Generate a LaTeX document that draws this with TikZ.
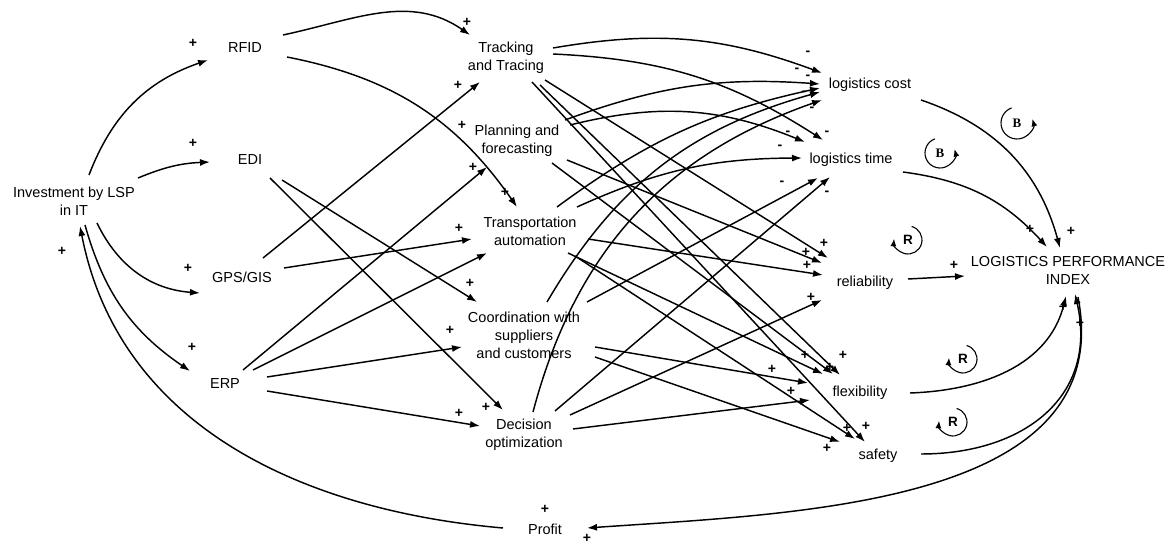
\documentclass[tikz,border=0pt]{standalone}
\usepackage{fontspec}
\setmainfont{Liberation Sans}
\newfontfamily\loopserif{Liberation Serif}
\usetikzlibrary{arrows.meta}
\begin{document}
\begin{tikzpicture}[x=1pt,y=1pt,
  lbl/.style={font=\fontsize{14.5}{18}\selectfont,align=center,inner sep=0pt},
  sgn/.style={font=\bfseries\fontsize{14}{14}\selectfont,inner sep=0pt},
  link/.style={line width=1.45pt,-{Latex[length=10pt,width=7pt]}},
  loopB/.style={font=\loopserif\bfseries\fontsize{13}{13}\selectfont,inner sep=0pt},
  loopR/.style={font=\bfseries\fontsize{13.5}{13.5}\selectfont,inner sep=0pt},
  looparc/.style={line width=1.1pt,-{Latex[length=7.5pt,width=6pt]}}]
\useasboundingbox (0,0) rectangle (1171,544);

% ---- variables ----
\node[lbl] (Inv)    at (74,343)   {Investment by LSP\\in IT};
\node[lbl] (RFID)   at (245,496)  {RFID};
\node[lbl] (EDI)    at (250,384)  {EDI};
\node[lbl] (GPS)    at (242,267)  {GPS/GIS};
\node[lbl] (ERP)    at (225,160)  {ERP};
\node[lbl] (TT)     at (506,486)  {Tracking\\and Tracing};
\node[lbl] (PF)     at (517,403)  {Planning and\\forecasting};
\node[lbl] (TA)     at (530,313)  {Transportation\\automation};
\node[lbl] (CO)     at (524,209)  {Coordination with\\suppliers\\and customers};
\node[lbl] (DO)     at (524,109)  {Decision\\optimization};
\node[lbl] (Profit) at (545,15)   {Profit};
\node[lbl] (LC)     at (870,459)  {logistics cost};
\node[lbl] (LT)     at (851,384)  {logistics time};
\node[lbl] (REL)    at (865,261)  {reliability};
\node[lbl] (FLEX)   at (860,151)  {flexibility};
\node[lbl] (SAF)    at (878,88)   {safety};
\node[lbl] (LPI)    at (1068,274) {LOGISTICS PERFORMANCE\\INDEX};

% ---- investment and IT applications ----
\draw[link] ([shift={(15,26)}]Inv.center)  to[bend left=25]  ([shift={(-37,-12)}]RFID.center);
\draw[link] ([shift={(64,23)}]Inv.center)  to[bend left=10]  ([shift={(-40,-2)}]EDI.center);
\draw[link] ([shift={(23,-22)}]Inv.center) to[bend right=30] ([shift={(-42,-16)}]GPS.center);
\draw[link] ([shift={(11,-24)}]Inv.center) to[bend right=20] ([shift={(-35,13)}]ERP.center);
\draw[link] ([shift={(-42,1)}]Profit.center) to[out=175,in=-79] ([shift={(6,-25)}]Inv.center);

\draw[link] ([shift={(38,13)}]RFID.center)  to[out=12,in=145]  ([shift={(-36,23)}]TT.center);
\draw[link] ([shift={(42,-9)}]RFID.center)  to[bend left=22]   ([shift={(-13,24)}]TA.center);
\draw[link] ([shift={(32,-20)}]EDI.center)  -- ([shift={(-47,33)}]CO.center);
\draw[link] ([shift={(20,-18)}]EDI.center)  -- ([shift={(-21,25)}]DO.center);
\draw[link] ([shift={(21,19)}]GPS.center)   -- ([shift={(-26,-24)}]TT.center);
\draw[link] ([shift={(42,9)}]GPS.center)    -- ([shift={(-58,-8)}]TA.center);
\draw[link] ([shift={(18,14)}]ERP.center)   -- ([shift={(-30,-26)}]PF.center);
\draw[link] ([shift={(28,14)}]ERP.center)   -- ([shift={(-43,-22)}]TA.center);
\draw[link] ([shift={(42,7)}]ERP.center)    -- ([shift={(-62,-12)}]CO.center);
\draw[link] ([shift={(42,-7)}]ERP.center)   -- ([shift={(-44,9)}]DO.center);

% ---- IT functions and logistics outcomes ----
\draw[link] ([shift={(47,10)}]TT.center)  to[bend left=15] ([shift={(-48,12)}]LC.center);
\draw[link] ([shift={(47,4)}]TT.center)   to[bend left=15] ([shift={(-28,20)}]LT.center);
\draw[link] ([shift={(39,-22)}]TT.center) -- ([shift={(-37,25)}]REL.center);
\draw[link] ([shift={(34,-27)}]TT.center) -- ([shift={(-20,18)}]FLEX.center);
\draw[link] ([shift={(26,-24)}]TT.center) -- ([shift={(-13,14)}]SAF.center);

\draw[link] ([shift={(48,21)}]PF.center)  to[bend left=12] ([shift={(-50,1)}]LC.center);
\draw[link] ([shift={(53,16)}]PF.center)  to[bend left=18] ([shift={(-46,18)}]LT.center);
\draw[link] ([shift={(50,-19)}]PF.center) -- ([shift={(-43,20)}]REL.center);
\draw[link] ([shift={(35,-22)}]PF.center) -- ([shift={(-27,19)}]FLEX.center);

\draw[link] ([shift={(27,24)}]TA.center)  to[bend left=12] ([shift={(-50,-3)}]LC.center);
\draw[link] ([shift={(47,24)}]TA.center)  to[bend left=12] ([shift={(-49,2)}]LT.center);
\draw[link] ([shift={(58,-8)}]TA.center)  -- ([shift={(-42,8)}]REL.center);
\draw[link] ([shift={(38,-22)}]TA.center) -- ([shift={(-37,19)}]FLEX.center);
\draw[link] ([shift={(45,-25)}]TA.center) -- ([shift={(-23,17)}]SAF.center);

\draw[link] ([shift={(23,33)}]CO.center)  to[bend left=22] ([shift={(-50,-7)}]LC.center);
\draw[link] ([shift={(63,33)}]CO.center)  -- ([shift={(-33,-18)}]LT.center);
\draw[link] ([shift={(71,-12)}]CO.center) -- ([shift={(-52,10)}]FLEX.center);
\draw[link] ([shift={(71,-22)}]CO.center) -- ([shift={(-38,14)}]SAF.center);

\draw[link] ([shift={(9,23)}]DO.center)   to[bend left=28] ([shift={(-48,-15)}]LC.center);
\draw[link] ([shift={(31,24)}]DO.center)  -- ([shift={(-21,-17)}]LT.center);
\draw[link] ([shift={(46,20)}]DO.center)  -- ([shift={(-43,-17)}]REL.center);
\draw[link] ([shift={(49,6)}]DO.center)   -- ([shift={(-50,-7)}]FLEX.center);

% ---- outcomes and the performance index ----
\draw[link] ([shift={(51,-15)}]LC.center)  to[bend left=28] ([shift={(-8,22)}]LPI.center);
\draw[link] ([shift={(52,-12)}]LT.center)  to[bend left=20] ([shift={(-21,23)}]LPI.center);
\draw[link] ([shift={(43,4)}]REL.center)   -- ([shift={(-103,-6)}]LPI.center);
\draw[link] ([shift={(50,0)}]FLEX.center)  to[out=2,in=-104] ([shift={(-2,-26)}]LPI.center);
\draw[link] ([shift={(43,2)}]SAF.center)   to[out=0,in=-77,looseness=1.2] ([shift={(7,-24)}]LPI.center);
\draw[link] ([shift={(10,-27)}]LPI.center) to[out=-79,in=4] ([shift={(42,1)}]Profit.center);

% ---- link polarities ----
\foreach \px/\py [count=\i] in {193/43, 193/143, 188/268, 192/347, 62/251,
    467/22, 458/85, 462/125, 473/167, 505/192, 459/228, 470/283, 450/330,
    459/413, 486/407, 545/509, 587/538,
    824/243, 806/252, 807/265, 811/297,
    805/355, 843/355, 830/367, 772/369, 791/391,
    847/428, 866/426, 827/448,
    1071/231, 1030/229, 954/265, 1063/307, 1080/323}
  \node[sgn] (plus\i) at (\px,{544-\py}) {+};
\foreach \px/\py [count=\i] in {808/53, 797/70, 808/77, 804/93, 812/109,
    788/133, 827/133, 780/147, 782/183, 827/193}
  \node[sgn] (minus\i) at (\px,{544-\py}) {-};

% ---- loop markers ----
\node[loopB] (B1) at (1017,421) {B};
\draw[looparc] (B1.center) ++(110:16) arc[start angle=110,end angle=375,radius=16];
\node[loopB] (B2) at (940,391) {B};
\draw[looparc] (B2.center) ++(110:15) arc[start angle=110,end angle=375,radius=15];
\node[loopR] (R1) at (908,304) {R};
\draw[looparc] (R1.center) ++(75:14) arc[start angle=75,end angle=-185,radius=14];
\node[loopR] (R2) at (963,185) {R};
\draw[looparc] (R2.center) ++(75:14) arc[start angle=75,end angle=-185,radius=14];
\node[loopR] (R3) at (953,122) {R};
\draw[looparc] (R3.center) ++(75:14) arc[start angle=75,end angle=-185,radius=14];
\end{tikzpicture}
\end{document}
